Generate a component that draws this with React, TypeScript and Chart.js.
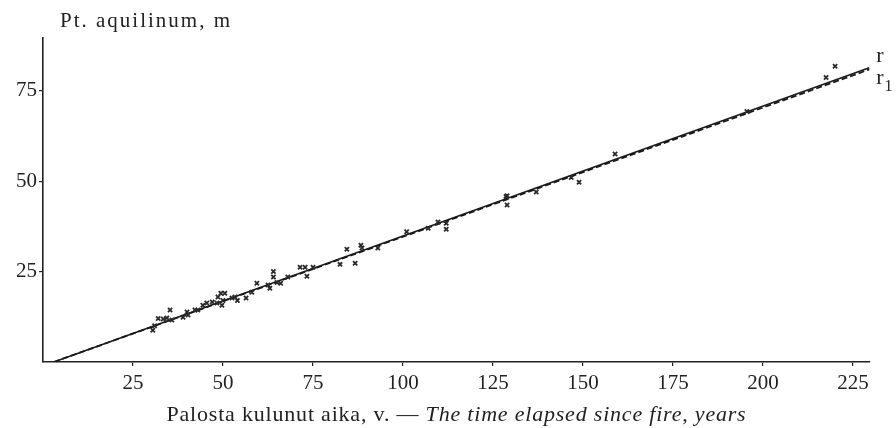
import React, { useEffect, useRef } from 'react';
import { Chart, registerables } from 'chart.js';

Chart.register(...registerables);

// Observations: time since fire (years) and Pt. aquilinum value
const pointX = [
  30.5, 31, 32, 33.4, 34.4, 35.3, 35.8, 38.9, 40, 40.3, 42.2, 43, 44.4, 45.5, 47, 48.3, 48.6, 49.4, 49.7, 50,
  50.5, 52.5, 53.3, 54, 56.4, 58, 59.4, 62.5, 63, 64, 64, 65, 66, 68, 71.4, 72.8, 73.3, 75, 82.5, 84.4,
  86.7, 88.3, 88.6, 93, 101, 107, 109.7, 112, 112, 128.6, 128.9, 128.9, 137, 146.7, 148.9, 158.9, 195.5, 217.5, 220,
];
const pointY = [
  8.8, 10, 12, 11.9, 12.2, 14.4, 11.6, 12.4, 13.8, 13, 14.4, 14.4, 15.7, 16.3, 16.6, 16.3, 18, 19, 15.7, 17,
  19, 17.7, 18, 17, 17.7, 19.3, 21.8, 21.3, 20.4, 25, 23.5, 22, 21.8, 23.5, 26.2, 26.2, 23.7, 26.2, 27, 31.2,
  27.3, 32.3, 31.5, 31.5, 36, 37, 38.7, 38.4, 36.7, 45.8, 46, 43.4, 47, 51, 49.7, 57.5, 69.3, 78.7, 81.8,
];

// Regression lines r (solid) and r1 (dashed)
const lineRX = [3, 229.5];
const lineRY = [0, 81.4];
const lineR1X = [3, 229.5];
const lineR1Y = [0, 80.9];

const xTicks = [25, 50, 75, 100, 125, 150, 175, 200, 225];
const yTicks = [25, 50, 75];

const yTitle = 'Pt. aquilinum, m';
const xTitleFi = 'Palosta kulunut aika, v. — ';
const xTitleEn = 'The time elapsed since fire, years';
const labelR = 'r';
const labelR1 = 'r';
const labelR1Sub = '1';

const FONT = '"Liberation Serif", "DejaVu Serif", serif';
const INK = '#222';

const textPlugin = {
  id: 'textPlugin',
  afterDraw(chart: any) {
    const { ctx, chartArea, scales } = chart;
    ctx.save();
    ctx.fillStyle = INK;
    ctx.textBaseline = 'alphabetic';

    // y-axis title
    ctx.font = `21px ${FONT}`;
    (ctx as any).letterSpacing = '2px';
    ctx.textAlign = 'left';
    ctx.fillText(yTitle, chartArea.left + 17, chartArea.top - 11);

    // x-axis title (normal + italic)
    (ctx as any).letterSpacing = '0.8px';
    ctx.font = `22px ${FONT}`;
    const w1 = ctx.measureText(xTitleFi).width;
    ctx.font = `italic 22px ${FONT}`;
    const w2 = ctx.measureText(xTitleEn).width;
    const cx = (chartArea.left + chartArea.right) / 2;
    const startX = cx - (w1 + w2) / 2;
    const by = chartArea.bottom + 59;
    ctx.font = `22px ${FONT}`;
    ctx.fillText(xTitleFi, startX, by);
    ctx.font = `italic 22px ${FONT}`;
    ctx.fillText(xTitleEn, startX + w1, by);
    (ctx as any).letterSpacing = '0px';

    // line labels
    const xs = scales.x;
    const ys = scales.y;
    const rx = xs.getPixelForValue(lineRX[1]) + 7;
    const ry = ys.getPixelForValue(lineRY[1]);
    ctx.font = `22px ${FONT}`;
    ctx.fillText(labelR, rx, ry - 6);
    const r1y = ys.getPixelForValue(lineR1Y[1]);
    ctx.fillText(labelR1, rx, r1y + 15);
    const wr = ctx.measureText(labelR1).width;
    ctx.font = `16px ${FONT}`;
    ctx.fillText(labelR1Sub, rx + wr + 1, r1y + 22);
    ctx.restore();
  },
};

export default function App() {
  const ref = useRef<HTMLCanvasElement | null>(null);

  useEffect(() => {
    if (!ref.current) return;
    const chart = new Chart(ref.current, {
      type: 'scatter',
      data: {
        datasets: [
          {
            label: 'points',
            data: pointX.map((x, i) => ({ x, y: pointY[i] })),
            pointStyle: 'crossRot',
            pointRadius: 3,
            borderColor: '#2a2a2a',
            backgroundColor: '#2a2a2a',
            pointBorderWidth: 1.8,
            showLine: false,
          },
          {
            label: 'r',
            data: lineRX.map((x, i) => ({ x, y: lineRY[i] })),
            showLine: true,
            pointRadius: 0,
            borderColor: '#1a1a1a',
            borderWidth: 1.6,
          },
          {
            label: 'r1',
            data: lineR1X.map((x, i) => ({ x, y: lineR1Y[i] })),
            showLine: true,
            pointRadius: 0,
            borderColor: '#1a1a1a',
            borderWidth: 1.8,
            borderDash: [6, 3],
          },
        ],
      },
      options: {
        animation: false,
        responsive: true,
        maintainAspectRatio: false,
        layout: { padding: { top: 38, right: 26, left: 0, bottom: 0 } },
        plugins: { legend: { display: false }, tooltip: { enabled: false } },
        scales: {
          x: {
            type: 'linear',
            min: 0,
            max: 229.7,
            afterBuildTicks: (s: any) => {
              s.ticks = xTicks.map((v) => ({ value: v }));
            },
            afterFit: (s: any) => {
              s.height = 66;
            },
            grid: { drawOnChartArea: false, drawTicks: true, tickLength: 4, color: INK, lineWidth: 1.2 },
            border: { display: true, color: INK, width: 1.6 },
            ticks: {
              color: INK,
              font: { family: FONT, size: 21 },
              padding: 5,
              maxRotation: 0,
              autoSkip: false,
            },
          },
          y: {
            type: 'linear',
            min: 0,
            max: 89.6,
            afterBuildTicks: (s: any) => {
              s.ticks = yTicks.map((v) => ({ value: v }));
            },
            afterFit: (s: any) => {
              s.width = 43;
            },
            grid: { drawOnChartArea: false, drawTicks: true, tickLength: 4, color: INK, lineWidth: 1.2 },
            border: { display: true, color: INK, width: 1.6 },
            ticks: {
              color: INK,
              font: { family: FONT, size: 21 },
              padding: 2,
              autoSkip: false,
            },
          },
        },
      },
      plugins: [textPlugin],
    } as any);
    return () => chart.destroy();
  }, []);

  return (
    <div style={{ position: 'fixed', left: 0, top: 0, width: 896, height: 428, background: '#fff' }}>
      <canvas ref={ref} />
    </div>
  );
}
